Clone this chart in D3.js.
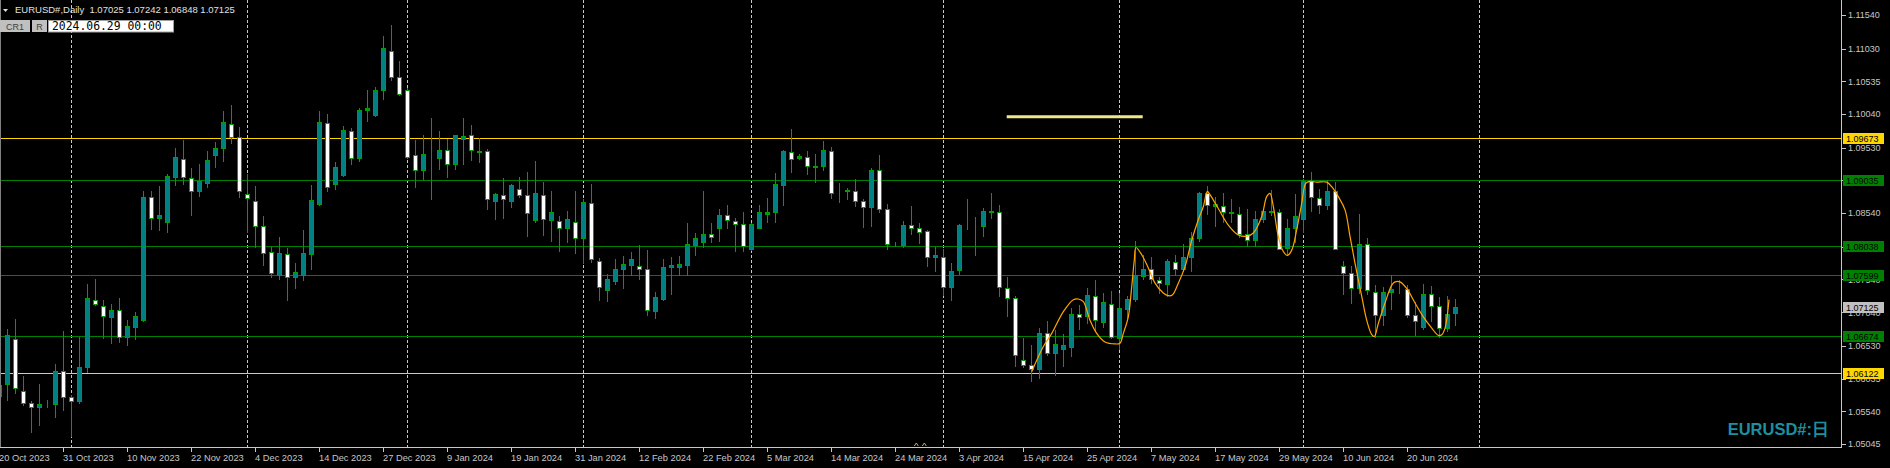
<!DOCTYPE html>
<html><head><meta charset="utf-8">
<script src="https://cdn.jsdelivr.net/npm/d3@7"></script>
<style>html,body{margin:0;padding:0;background:#000;overflow:hidden}</style>
</head><body><svg id="c" width="1890" height="468"></svg>
<script>
// ---- data ----
const symbol = "EURUSD#";
const period = "Daily";
const chartDate = "2024.06.29 00:00";
const firstBar = -1;
// [open, high, low, close] per daily bar, starting at bar index -1 (20 Oct 2023)
const candles = [
[1.0577,1.0596,1.0576,1.0594],
[1.0595,1.0678,1.0571,1.0669],[1.0664,1.0693,1.0582,1.0589],[1.0584,1.0607,1.0564,1.0566],[1.0566,1.0569,1.0522,1.0561],[1.0561,1.0596,1.0533,1.0565],
[1.0563,1.0571,1.0560,1.0564],[1.0565,1.0626,1.0546,1.0615],[1.0615,1.0676,1.0556,1.0575],[1.0575,1.0579,1.0516,1.0569],[1.0569,1.0667,1.0567,1.0621],
[1.0621,1.0747,1.0614,1.0726],[1.0722,1.0755,1.0715,1.0717],[1.0714,1.0722,1.0665,1.0699],[1.0697,1.0716,1.0658,1.0708],[1.0708,1.0725,1.0659,1.0667],
[1.0666,1.0692,1.0655,1.0683],[1.0682,1.0705,1.0663,1.0698],[1.0692,1.0887,1.0691,1.0878],[1.0878,1.0887,1.0830,1.0846],[1.0846,1.0895,1.0829,1.0851],
[1.0841,1.0914,1.0825,1.0910],[1.0908,1.0952,1.0897,1.0939],[1.0936,1.0965,1.0898,1.0909],[1.0907,1.0922,1.0851,1.0887],[1.0887,1.0929,1.0880,1.0903],
[1.0900,1.0948,1.0894,1.0934],[1.0942,1.0961,1.0924,1.0953],[1.0952,1.1009,1.0933,1.0992],[1.0989,1.1018,1.0960,1.0969],[1.0969,1.0984,1.0879,1.0887],
[1.0883,1.0913,1.0826,1.0877],[1.0873,1.0895,1.0803,1.0835],[1.0834,1.0849,1.0776,1.0794],[1.0795,1.0803,1.0758,1.0763],[1.0760,1.0818,1.0755,1.0794],
[1.0792,1.0801,1.0722,1.0757],[1.0758,1.0778,1.0741,1.0765],[1.0760,1.0829,1.0753,1.0794],[1.0792,1.0897,1.0770,1.0874],[1.0868,1.1009,1.0867,1.0992],
[1.0990,1.1004,1.0888,1.0893],[1.0898,1.0932,1.0891,1.0924],[1.0912,1.0986,1.0911,1.0980],[1.0979,1.0983,1.0928,1.0938],[1.0938,1.1013,1.0933,1.1010],
[1.1010,1.1041,1.0993,1.1013],[1.1002,1.1045,1.1001,1.1041],[1.1040,1.1122,1.1027,1.1104],[1.1100,1.1139,1.1055,1.1060],[1.1060,1.1084,1.1033,1.1034],
[1.1041,1.1043,1.0938,1.0939],[1.0942,1.0965,1.0893,1.0920],[1.0920,1.0972,1.0906,1.0943],[1.0940,1.0998,1.0876,1.0940],[1.0938,1.0978,1.0921,1.0949],
[1.0949,1.0966,1.0909,1.0929],[1.0929,1.0973,1.0921,1.0972],[1.0967,1.0998,1.0929,1.0971],[1.0972,1.0987,1.0935,1.0949],[1.0946,1.0968,1.0932,1.0948],
[1.0948,1.0951,1.0861,1.0875],[1.0873,1.0885,1.0845,1.0883],[1.0881,1.0907,1.0846,1.0875],[1.0872,1.0898,1.0864,1.0896],[1.0890,1.0909,1.0879,1.0881],
[1.0881,1.0916,1.0820,1.0854],[1.0844,1.0933,1.0841,1.0885],[1.0881,1.0901,1.0821,1.0845],[1.0844,1.0887,1.0812,1.0856],[1.0842,1.0850,1.0796,1.0831],
[1.0831,1.0857,1.0811,1.0845],[1.0840,1.0888,1.0794,1.0817],[1.0817,1.0876,1.0779,1.0871],[1.0870,1.0898,1.0780,1.0784],[1.0781,1.0786,1.0723,1.0742],
[1.0738,1.0762,1.0721,1.0754],[1.0752,1.0785,1.0747,1.0770],[1.0769,1.0789,1.0741,1.0777],[1.0776,1.0795,1.0760,1.0784],[1.0774,1.0806,1.0755,1.0770],
[1.0770,1.0798,1.0700,1.0707],[1.0706,1.0735,1.0695,1.0727],[1.0724,1.0785,1.0723,1.0772],[1.0772,1.0788,1.0731,1.0775],[1.0772,1.0789,1.0760,1.0777],
[1.0776,1.0839,1.0760,1.0807],[1.0806,1.0824,1.0790,1.0817],[1.0811,1.0888,1.0802,1.0822],[1.0822,1.0839,1.0810,1.0818],[1.0831,1.0861,1.0812,1.0851],
[1.0851,1.0866,1.0831,1.0843],[1.0842,1.0846,1.0796,1.0837],[1.0837,1.0856,1.0796,1.0805],[1.0799,1.0839,1.0798,1.0837],[1.0832,1.0866,1.0831,1.0856],
[1.0853,1.0877,1.0840,1.0856],[1.0855,1.0915,1.0841,1.0898],[1.0897,1.0950,1.0867,1.0948],[1.0946,1.0981,1.0916,1.0936],[1.0938,1.0943,1.0936,1.0941],
[1.0939,1.0948,1.0913,1.0925],[1.0924,1.0944,1.0901,1.0926],[1.0926,1.0963,1.0919,1.0949],[1.0948,1.0954,1.0877,1.0885],[1.0886,1.0900,1.0871,1.0886],
[1.0887,1.0892,1.0876,1.0889],[1.0887,1.0906,1.0865,1.0873],[1.0873,1.0876,1.0833,1.0864],[1.0864,1.0922,1.0835,1.0920],[1.0920,1.0942,1.0855,1.0861],
[1.0861,1.0868,1.0800,1.0807],[1.0807,1.0810,1.0805,1.0807],[1.0806,1.0842,1.0802,1.0836],[1.0836,1.0865,1.0822,1.0831],[1.0831,1.0839,1.0809,1.0826],
[1.0827,1.0829,1.0774,1.0787],[1.0787,1.0803,1.0767,1.0790],[1.0787,1.0800,1.0730,1.0742],[1.0742,1.0778,1.0722,1.0767],[1.0768,1.0837,1.0762,1.0836],
[1.0835,1.0876,1.0830,1.0835],[1.0835,1.0848,1.0791,1.0835],[1.0835,1.0862,1.0819,1.0858],[1.0856,1.0885,1.0847,1.0858],[1.0855,1.0866,1.0728,1.0742],
[1.0740,1.0757,1.0698,1.0725],[1.0725,1.0728,1.0622,1.0639],[1.0631,1.0665,1.0621,1.0624],[1.0624,1.0654,1.0600,1.0618],[1.0618,1.0680,1.0605,1.0672],
[1.0672,1.0690,1.0639,1.0643],[1.0643,1.0677,1.0609,1.0656],[1.0648,1.0671,1.0623,1.0654],[1.0651,1.0711,1.0638,1.0701],[1.0701,1.0715,1.0678,1.0697],
[1.0698,1.0740,1.0687,1.0730],[1.0728,1.0753,1.0677,1.0692],[1.0689,1.0733,1.0682,1.0720],[1.0717,1.0736,1.0665,1.0666],[1.0665,1.0733,1.0649,1.0711],
[1.0709,1.0729,1.0695,1.0724],[1.0724,1.0812,1.0721,1.0761],[1.0759,1.0790,1.0755,1.0769],[1.0769,1.0787,1.0748,1.0754],[1.0753,1.0758,1.0733,1.0748],
[1.0747,1.0784,1.0729,1.0781],[1.0780,1.0790,1.0760,1.0769],[1.0770,1.0807,1.0767,1.0788],[1.0787,1.0826,1.0767,1.0817],[1.0817,1.0886,1.0812,1.0885],
[1.0884,1.0895,1.0853,1.0866],[1.0865,1.0878,1.0835,1.0868],[1.0865,1.0885,1.0841,1.0856],[1.0854,1.0875,1.0841,1.0856],[1.0852,1.0863,1.0818,1.0822],
[1.0822,1.0861,1.0804,1.0814],[1.0814,1.0857,1.0804,1.0845],[1.0845,1.0861,1.0840,1.0858],[1.0855,1.0889,1.0851,1.0857],[1.0856,1.0860,1.0799,1.0800],
[1.0801,1.0845,1.0791,1.0831],[1.0831,1.0883,1.0810,1.0849],[1.0845,1.0905,1.0826,1.0903],[1.0903,1.0916,1.0858,1.0878],[1.0877,1.0890,1.0854,1.0867],
[1.0867,1.0904,1.0861,1.0888],[1.0888,1.0901,1.0799,1.0800],[1.0774,1.0782,1.0732,1.0764],[1.0764,1.0774,1.0718,1.0740],[1.0740,1.0853,1.0733,1.0808],
[1.0808,1.0816,1.0732,1.0737],[1.0734,1.0745,1.0666,1.0700],[1.0700,1.0742,1.0684,1.0734],[1.0734,1.0761,1.0709,1.0739],[1.0739,1.0753,1.0733,1.0739],
[1.0739,1.0745,1.0697,1.0700],[1.0700,1.0720,1.0670,1.0690],[1.0682,1.0746,1.0679,1.0731],[1.0731,1.0744,1.0690,1.0713],[1.0713,1.0727,1.0666,1.0680],
[1.0680,1.0728,1.0676,1.0702],[1.07025,1.07242,1.06848,1.07125]
];
const dateLabels = [[-1,"20 Oct 2023"],[7,"31 Oct 2023"],[15,"10 Nov 2023"],[23,"22 Nov 2023"],[31,"4 Dec 2023"],[39,"14 Dec 2023"],
  [47,"27 Dec 2023"],[55,"9 Jan 2024"],[63,"19 Jan 2024"],[71,"31 Jan 2024"],[79,"12 Feb 2024"],[87,"22 Feb 2024"],[95,"5 Mar 2024"],
  [103,"14 Mar 2024"],[111,"24 Mar 2024"],[119,"3 Apr 2024"],[127,"15 Apr 2024"],[135,"25 Apr 2024"],[143,"7 May 2024"],
  [151,"17 May 2024"],[159,"29 May 2024"],[167,"10 Jun 2024"],[175,"20 Jun 2024"]];
const monthSeparators = [8,30,50,72,93,117,139,162,184];
const priceTicks = ["1.11540","1.11030","1.10535","1.10040","1.09530","1.09035","1.08540","1.08035","1.07540","1.07040","1.06530","1.06035","1.05540","1.05045"];
const yellowLevels = [1.09673, 1.06122];
const greenLevels = [1.09035, 1.08038, 1.07599, 1.06674];
const bidPrice = 1.07125;
const trendSegment = [[124.9, 1.1000],[141.9, 1.1000]];
// smoothed swing curve: [bar index, price]
const swingCurve = [[128.03,1.0614],[129.48,1.0652],[130.53,1.0672],[131.98,1.0705],[133.23,1.0723],[133.85,1.0724],[134.48,1.0720],
 [135.31,1.0692],[136.15,1.0672],[137.19,1.0659],[138.44,1.0656],[139.06,1.0657],[139.48,1.0672],[140.1,1.0697],[140.53,1.0743],
 [140.85,1.0783],[141.06,1.0802],[141.78,1.0791],[142.6,1.0771],[143.44,1.0748],[144.48,1.0733],[145.1,1.0729],[145.6,1.0730],
 [146.35,1.0748],[147.19,1.0773],[148.03,1.0813],[148.85,1.0844],[149.48,1.0864],[149.98,1.0887],[150.31,1.0882],[151.35,1.0861],
 [152.6,1.0836],[153.85,1.0821],[154.9,1.0819],[155.73,1.0824],[156.78,1.0849],[157.4,1.0879],[157.81,1.0884],[158.23,1.0864],
 [158.85,1.0819],[159.48,1.0796],[159.98,1.0790],[160.53,1.0798],[161.15,1.0829],[161.78,1.0869],[162.28,1.0899],[162.81,1.0902],
 [163.65,1.0901],[164.9,1.0901],[165.53,1.0894],[166.35,1.0879],[167.19,1.0859],[167.81,1.0819],[168.44,1.0778],[169.28,1.0728],
 [169.9,1.0692],[170.53,1.0670],[170.85,1.0667],[171.35,1.0687],[172.19,1.0718],[173.03,1.0745],[173.44,1.0750],[174.06,1.0750],
 [174.9,1.0740],[175.94,1.0718],[176.98,1.0697],[178.03,1.0680],[178.85,1.0669],[179.28,1.0670],[179.69,1.0680],[180.19,1.0723]];
const arrowMarks = [[113.6, 1.0503],[114.6, 1.0503]];

// ---- layout ----
const W = 1890, H = 468, plotR = 1841, plotB = 447;
const svg = d3.select("#c");
const x = d3.scaleLinear().domain([0, 1]).range([7.5, 15.5]);
const y = d3.scaleLinear().domain([1.05045, 1.11540]).range([444, 15]);
const font = "'Liberation Sans', Arial, sans-serif";

svg.append("rect").attr("width", W).attr("height", H).attr("fill", "#000");
svg.append("defs").append("clipPath").attr("id", "plot")
  .append("rect").attr("x", 0).attr("y", 0).attr("width", plotR).attr("height", plotB);
const g = svg.append("g").attr("clip-path", "url(#plot)");

// month separators
g.selectAll("line.sep").data(monthSeparators).join("line")
  .attr("x1", d => Math.floor(x(d)) + 0.5).attr("x2", d => Math.floor(x(d)) + 0.5)
  .attr("y1", 0).attr("y2", plotB)
  .attr("stroke", "#c8c8c8").attr("stroke-width", 1).attr("stroke-dasharray", "3,2");

// horizontal levels
const levels = yellowLevels.map(v => ({v, c: "#ffd700"})).concat(greenLevels.map(v => ({v, c: "#008000"})));
g.selectAll("line.lvl").data(levels).join("line")
  .attr("x1", 0).attr("x2", plotR)
  .attr("y1", d => Math.round(y(d.v)) + 0.5).attr("y2", d => Math.round(y(d.v)) + 0.5)
  .attr("stroke", d => d.c).attr("stroke-width", 1);

// trend segment
g.append("line")
  .attr("x1", x(trendSegment[0][0])).attr("x2", x(trendSegment[1][0]))
  .attr("y1", y(trendSegment[0][1])).attr("y2", y(trendSegment[1][1]))
  .attr("stroke", "#f0e68c").attr("stroke-width", 3);

// candles
const bars = candles.map((c, k) => ({i: firstBar + k, o: c[0], h: c[1], l: c[2], c: c[3]}));
const cg = g.append("g");
cg.selectAll("line.wick").data(bars).join("line")
  .attr("x1", d => Math.floor(x(d.i)) + 0.5).attr("x2", d => Math.floor(x(d.i)) + 0.5)
  .attr("y1", d => Math.round(y(d.h))).attr("y2", d => Math.round(y(d.l)) + 1)
  .attr("stroke", "#00a000").attr("stroke-width", 1);
cg.selectAll("rect.body").data(bars).join("rect")
  .attr("x", d => Math.floor(x(d.i)) - 2 + 0.5)
  .attr("width", 4)
  .attr("y", d => Math.round(y(Math.max(d.o, d.c))) + 0.5)
  .attr("height", d => Math.round(y(Math.min(d.o, d.c))) - Math.round(y(Math.max(d.o, d.c))))
  .attr("fill", d => d.c > d.o ? "#008080" : (d.c < d.o ? "#ffffff" : "#00a000"))
  .attr("stroke", "#00a000").attr("stroke-width", 1);

// swing curve
g.append("path").datum(swingCurve)
  .attr("d", d3.line().x(d => x(d[0])).y(d => y(d[1])).curve(d3.curveCatmullRom))
  .attr("fill", "none").attr("stroke", "#ffa500").attr("stroke-width", 1.2);

// arrow marks
g.selectAll("path.arr").data(arrowMarks).join("path")
  .attr("d", d => { const cx = x(d[0]), cy = y(d[1]); return `M${cx-2},${cy+1}L${cx},${cy-2}L${cx+2},${cy+1}`; })
  .attr("fill", "none").attr("stroke", "#ffa500").attr("stroke-width", 1);

// left border
svg.append("line").attr("x1", 0.5).attr("x2", 0.5).attr("y1", 0).attr("y2", plotB).attr("stroke", "#808080");

// axes lines
svg.append("line").attr("x1", plotR + 0.5).attr("x2", plotR + 0.5).attr("y1", 0).attr("y2", plotB + 1)
  .attr("stroke", "#c8c8c8");
svg.append("line").attr("x1", 0).attr("x2", plotR + 1).attr("y1", plotB + 0.5).attr("y2", plotB + 0.5)
  .attr("stroke", "#c8c8c8");

// price axis ticks + labels
const pt = svg.append("g");
pt.selectAll("line").data(priceTicks).join("line")
  .attr("x1", plotR + 1).attr("x2", plotR + 5)
  .attr("y1", d => Math.round(y(+d)) + 0.5).attr("y2", d => Math.round(y(+d)) + 0.5)
  .attr("stroke", "#c8c8c8");
pt.selectAll("text").data(priceTicks).join("text")
  .attr("x", plotR + 7).attr("y", d => y(+d) + 3.3)
  .attr("fill", "#c8c8c8").attr("font-family", font).attr("font-size", 9).text(d => d);

// price boxes
const boxes = yellowLevels.map(v => ({v, bg: "#ffd700"}))
  .concat(greenLevels.map(v => ({v, bg: "#008000"})))
  .concat([{v: bidPrice, bg: "#c0c0c0"}]);
const bx = svg.append("g");
bx.selectAll("rect").data(boxes).join("rect")
  .attr("x", plotR + 2).attr("width", 41)
  .attr("y", d => Math.round(y(d.v)) - 5).attr("height", 11)
  .attr("fill", d => d.bg);
bx.selectAll("text").data(boxes).join("text")
  .attr("x", plotR + 5).attr("y", d => Math.round(y(d.v)) + 3.8)
  .attr("fill", "#000").attr("font-family", font).attr("font-size", 9)
  .text(d => d.v.toFixed(5));

// date axis
const da = svg.append("g");
da.selectAll("line").data(dateLabels).join("line")
  .attr("x1", d => Math.floor(x(d[0])) + 0.5).attr("x2", d => Math.floor(x(d[0])) + 0.5)
  .attr("y1", plotB + 1).attr("y2", plotB + 5).attr("stroke", "#c8c8c8");
da.selectAll("text").data(dateLabels).join("text")
  .attr("x", d => Math.floor(x(d[0]))).attr("y", 461)
  .attr("fill", "#c8c8c8").attr("font-family", font).attr("font-size", 9.3).text(d => d[1]);

// header
const last = candles[candles.length - 1];
svg.append("path").attr("d", "M3,9L8,9L5.5,12Z").attr("fill", "#e0e0e0");
svg.append("text").attr("x", 15).attr("y", 13).attr("fill", "#e0e0e0")
  .attr("font-family", font).attr("font-size", 9.5).attr("xml:space", "preserve")
  .text(`${symbol},${period}  ${last.map(v => v.toFixed(5)).join(" ")}`);

// buttons
svg.append("rect").attr("x", 0).attr("y", 20).attr("width", 30).attr("height", 12).attr("fill", "#c0c0c0");
svg.append("text").attr("x", 15).attr("y", 29.5).attr("text-anchor", "middle").attr("fill", "#404040")
  .attr("font-family", font).attr("font-size", 9).text("CR1");
svg.append("rect").attr("x", 32).attr("y", 20).attr("width", 15).attr("height", 12).attr("fill", "#c0c0c0");
svg.append("text").attr("x", 39.5).attr("y", 29.5).attr("text-anchor", "middle").attr("fill", "#404040")
  .attr("font-family", font).attr("font-size", 9).text("R");
svg.append("rect").attr("x", 48.5).attr("y", 20.5).attr("width", 125).attr("height", 11.5)
  .attr("fill", "#ffffff").attr("stroke", "#a0a0a0");
svg.append("text").attr("x", 52).attr("y", 30).attr("fill", "#000")
  .attr("font-family", "'DejaVu Sans Mono', monospace").attr("font-size", 11.4).text(chartDate);

// watermark label
svg.append("text").attr("x", 1829).attr("y", 435).attr("text-anchor", "end")
  .attr("fill", "#1e8fa0").attr("font-family", font).attr("font-weight", "bold").attr("font-size", 16.5)
  .text(symbol + ":日");
</script></body></html>
